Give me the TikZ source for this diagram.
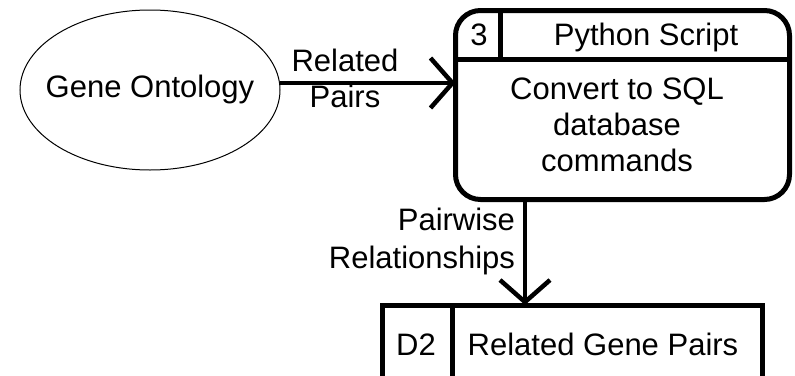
\documentclass[tikz,border=0pt]{standalone}
\usepackage{fontspec}
\setmainfont{Liberation Sans}
\usetikzlibrary{shapes.geometric,arrows.meta}
\tikzset{
  txt/.style={inner sep=0pt, outer sep=0pt},
  flow/.style={line width=4.5pt, -{Straight Barb[length=22pt, width=50pt]}},
  thick box/.style={draw, line width=5pt, outer sep=0pt, inner sep=0pt},
}
\begin{document}
\begin{tikzpicture}[x=1pt, y=-1pt, font=\fontsize{31}{36}\selectfont]
\useasboundingbox[fill=white] (0,0) rectangle (795,375);
% external entity
\node[draw, ellipse, line width=1pt, minimum width=260pt, minimum height=160pt, outer sep=0pt] (go) at (150,90) {};
\node[txt, anchor=base] (golbl) at (150,97) {Gene Ontology};
% process
\node[thick box, rounded corners=25pt, minimum width=334pt, minimum height=189pt] (p3) at (622.5,105) {};
\coordinate (hl) at (455.5,59);
\coordinate (hr) at (789.5,59);
\draw[line width=5pt] (hl) -- (hr);
\coordinate (dtop) at (500,10.5);
\coordinate (dbot) at (500,59);
\draw[line width=5pt] (dtop) -- (dbot);
\node[txt, anchor=base] (pnum) at (479,45) {3};
\node[txt, anchor=base] (ptitle) at (646,45) {Python Script};
\node[txt, anchor=north, align=center] (pbody) at (617,77.5) {Convert to SQL\\database\\commands};
% data store
\node[thick box, minimum width=380pt, minimum height=100pt, anchor=north west] (d2) at (382.5,305) {};
\coordinate (s1) at (452,305);
\coordinate (s2) at (452,380);
\draw[line width=5pt] (s1) -- (s2);
\node[txt, anchor=base] (dnum) at (416,355) {D2};
\node[txt, anchor=base] (dtitle) at (603,355) {Related Gene Pairs};
% flows
\draw[flow] (go.east |- 0,83) -- (p3.west |- 0,83);
\node[txt, anchor=north, align=center] (f1) at (345,49.5) {Related\\Pairs};
\draw[flow] (p3.south -| 525,0) -- (d2.north -| 525,0);
\node[txt, anchor=north east, align=right] (f2) at (515,207.7) {Pairwise\\[2pt]Relationships};
\end{tikzpicture}
\end{document}
